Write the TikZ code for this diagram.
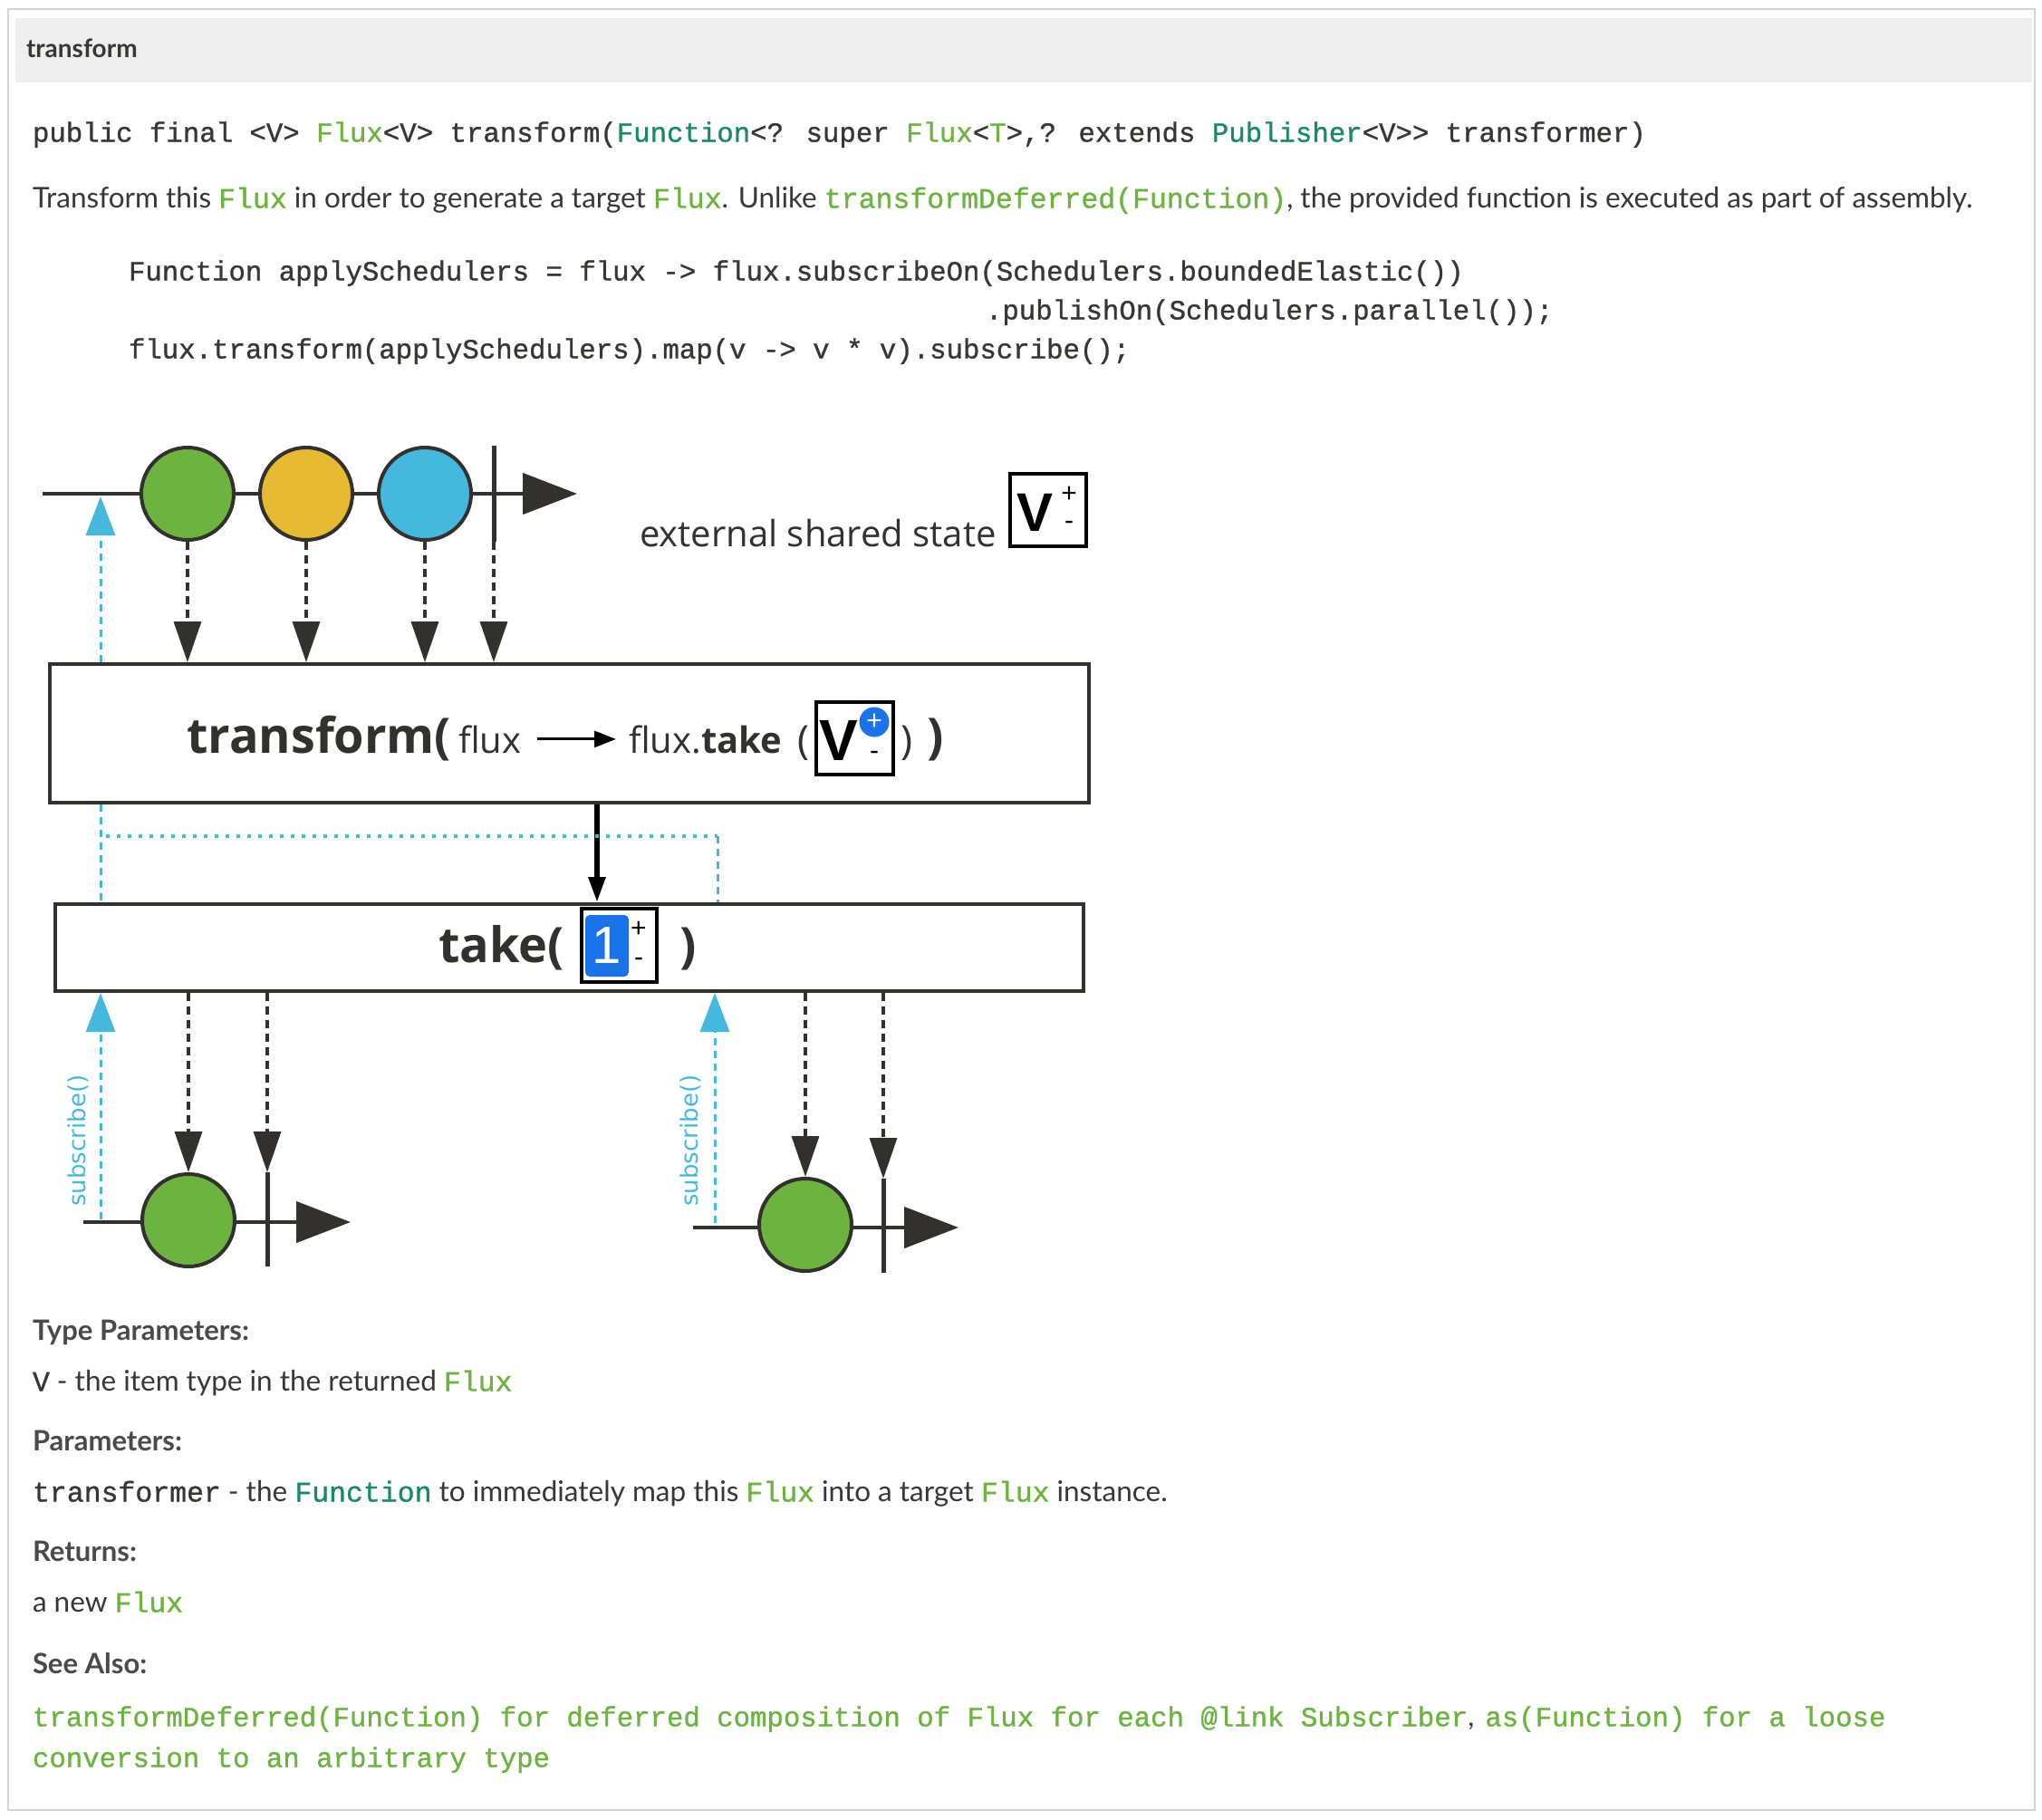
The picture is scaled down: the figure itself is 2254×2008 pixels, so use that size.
\documentclass[tikz,border=0pt]{standalone}
\usepackage{fontspec}
\setmainfont{Lato}
\newfontfamily\monof[FakeBold=1]{Liberation Mono}
\newfontfamily\arialf{Liberation Sans}
\newfontfamily\dejaf{DejaVu Sans}
\newfontfamily\opensf{Open Sans}
\usetikzlibrary{arrows.meta}
\definecolor{txt}{HTML}{353833}
\definecolor{headc}{HTML}{4A4A4A}
\definecolor{lgreen}{HTML}{6DB33F}
\definecolor{tealc}{HTML}{1A8A62}
\definecolor{inkc}{HTML}{33312D}
\definecolor{cyanc}{HTML}{45B8DE}
\definecolor{mgreen}{HTML}{6DB33F}
\definecolor{myellow}{HTML}{E6BB32}
\definecolor{mblue}{HTML}{45B8DE}
\definecolor{vblue}{HTML}{1A73E8}
\definecolor{framec}{HTML}{D4D4D4}
\definecolor{headbg}{HTML}{EEEEEE}
\newcommand\setfs[1]{\fontsize{#1pt}{#1pt}\selectfont}
\newcommand\gm[1]{{\monof\color{lgreen}#1}}
\newcommand\tm[1]{{\monof\color{tealc}#1}}
\newcommand\dm[1]{{\monof #1}}
\tikzset{
  txtn/.style={anchor=mid west, inner sep=0pt, outer sep=0pt, text=txt},
  headn/.style={txtn, text=headc, font=\bfseries\setfs{31}},
  bodyn/.style={txtn, font=\setfs{31.5}},
  coden/.style={txtn, font=\monof\setfs{30.7}},
  marble/.style={circle, draw=inkc, line width=4pt, minimum size=102pt, inner sep=0pt},
  timeline/.style={draw=inkc, line width=4.5pt, -{Triangle[length=60pt,width=45pt]}},
  stopbar/.style={draw=inkc, line width=5pt},
  emit/.style={draw=inkc, line width=3.5pt, dash pattern=on 9pt off 6pt, -{Triangle[length=45pt,width=30pt]}},
  sub/.style={draw=cyanc, line width=3pt, dash pattern=on 8pt off 6pt},
  subarrow/.style={sub, -{Triangle[length=43pt,width=32pt]}},
  opbox/.style={draw=inkc, line width=4pt, fill=white, inner sep=0pt},
  statebox/.style={draw=black, line width=4pt, inner sep=0pt},
  dtext/.style={anchor=base west, inner sep=0pt, text=inkc},
  pm/.style={font=\arialf\setfs{30}, inner sep=0pt},
}
\begin{document}
\begin{tikzpicture}[x=1pt,y=-1pt]
\useasboundingbox (0,0) rectangle (2254,2008);
\fill[white] (0,0) rectangle (2254,2008);
\draw[framec, line width=2pt] (9,10) rectangle (2246,1998);
\fill[headbg] (17,20) rectangle (2243,91);
\node[txtn, font=\bfseries\setfs{28}] (title) at (29,61) {transform};

% signature and description
\node[coden] (sig) at (36,154) {public final <V> \gm{Flux}<V> transform(\tm{Function}<? super \gm{Flux}<\gm{T}>,? extends \tm{Publisher}<V>> transformer)};
\node[bodyn] (desc) at (36,227) {Transform this \gm{Flux} in order to generate a target \gm{Flux}. Unlike \gm{transformDeferred(Function)}, the provided function is executed as part of assembly.};
\node[coden] (code1) at (142,307) {Function applySchedulers = flux -> flux.subscribeOn(Schedulers.boundedElastic())};
\node[coden] (code2) at (1088,350) {.publishOn(Schedulers.parallel());};
\node[coden] (code3) at (142,393) {flux.transform(applySchedulers).map(v -> v * v).subscribe();};

% ---------- diagram ----------
% top source stream
\coordinate (tl1s) at (47,545);
\coordinate (tl1e) at (637,545);
\draw[timeline] (tl1s) -- (tl1e);
\node[marble, fill=mgreen] (c1) at (207,545) {};
\node[marble, fill=myellow] (c2) at (338,545) {};
\node[marble, fill=mblue] (c3) at (469,545) {};
\coordinate (b1t) at (545,492);
\coordinate (b1b) at (545,598);
\draw[stopbar] (b1t) -- (b1b);

\node[dtext, font=\opensf\setfs{40}] (ext) at (706,603) {external shared state};
\node[statebox, minimum width=84pt, minimum height=80pt] (vs) at (1157,563) {};
\node[font=\arialf\bfseries\setfs{60}, inner sep=0pt] (vsV) at (1142,566) {V};
\node[pm] (vsP) at (1180,546) {+};
\node[pm] (vsM) at (1180,580) {-};

% transform box
\node[opbox, minimum width=1147pt, minimum height=153pt] (tbox) at (628.5,809.5) {};
\node[dtext, font=\opensf\bfseries\setfs{54}] (tT) at (206,831) {transform(};
\node[dtext, font=\opensf\setfs{40}] (tF) at (506,831) {flux};
\node[dtext, font=\opensf\setfs{40}] (tFT) at (694,831) {flux.\textbf{take}};
\draw[black, line width=3pt, -{Triangle[length=24pt,width=18pt]}] ([xshift=17pt]tF.east) -- ([xshift=-14pt]tF.east -| tFT.west);
\node[dtext, font=\opensf\setfs{44}] (tp1) at (880,832) {(};
\node[statebox, minimum width=85pt, minimum height=80pt] (vt) at (943.5,815) {};
\node[font=\arialf\bfseries\setfs{64}, inner sep=0pt] (vtV) at (926,817) {V};
\node[circle, fill=vblue, minimum size=33pt, inner sep=0pt, text=white, font=\arialf\setfs{30}] (vtP) at (965,797) {+};
\node[pm] (vtM) at (965,834) {-};
\node[dtext, font=\opensf\setfs{44}] (tp2) at (994,832) {)};
\node[dtext, font=\opensf\bfseries\setfs{54}] (tp3) at (1023,831) {)};

% take box
\node[opbox, minimum width=1135pt, minimum height=96pt] (take) at (628.5,1046) {};
\node[dtext, font=\opensf\bfseries\setfs{54}] (tk) at (484,1062) {take(};
\node[statebox, minimum width=83pt, minimum height=81pt] (onebox) at (683.5,1043.5) {};
\node[fill=vblue, rounded corners=5pt, minimum width=48pt, minimum height=68pt, inner sep=0pt, text=white, font=\arialf\setfs{58}] (one) at (670,1044) {1};
\node[pm] (oneP) at (705,1026) {+};
\node[pm] (oneM) at (705,1062) {-};
\node[dtext, font=\opensf\bfseries\setfs{54}] (tk2) at (750,1062) {)};

% emissions into transform
\draw[emit] (c1.south) -- (c1.south |- tbox.north);
\draw[emit] (c2.south) -- (c2.south |- tbox.north);
\draw[emit] (c3.south) -- (c3.south |- tbox.north);
\draw[emit] (b1b) -- (b1b |- tbox.north);

% transform -> take
\draw[black, line width=6pt, -{Triangle[length=28pt,width=18pt]}] ([xshift=30.5pt]tbox.south) -- ([xshift=30.5pt]take.north);

% cyan subscription paths
\coordinate (cyA) at (111,548);
\draw[subarrow] (cyA |- tbox.north) -- (cyA);
\draw[sub] (cyA |- tbox.south) -- (cyA |- take.north);
\coordinate (cyJ1) at (117,923);
\coordinate (cyJ2) at (792,923);
\draw[cyanc, line width=4pt, dash pattern=on 4pt off 8pt] (cyJ1) -- (cyJ2);
\draw[sub] (cyJ2) -- (cyJ2 |- take.north);

% bottom left subscriber
\coordinate (sl) at (111,1346);
\draw[subarrow] (sl) -- (sl |- take.south);
\node[rotate=90, text=cyanc, font=\dejaf\setfs{26}, inner sep=0pt] (subL) at (86,1259) {subscribe()};
\coordinate (tl2s) at (92,1349);
\coordinate (tl2e) at (387,1349);
\draw[timeline] (tl2s) -- (tl2e);
\node[marble, fill=mgreen] (c4) at (208,1347) {};
\coordinate (b2t) at (295,1294);
\coordinate (b2b) at (295,1398);
\draw[stopbar] (b2t) -- (b2b);
\draw[emit] (c4.north |- take.south) -- (c4.north);
\draw[emit] (b2t |- take.south) -- (b2t);

% bottom right subscriber
\coordinate (sr) at (789,1350);
\draw[subarrow] (sr) -- (sr |- take.south);
\node[rotate=90, text=cyanc, font=\dejaf\setfs{26}, inner sep=0pt] (subR) at (762,1259) {subscribe()};
\coordinate (tl3s) at (765,1355);
\coordinate (tl3e) at (1058,1355);
\draw[timeline] (tl3s) -- (tl3e);
\node[marble, fill=mgreen] (c5) at (889,1352) {};
\coordinate (b3t) at (975,1301);
\coordinate (b3b) at (975,1405);
\draw[stopbar] (b3t) -- (b3b);
\draw[emit] (c5.north |- take.south) -- (c5.north);
\draw[emit] (b3t |- take.south) -- (b3t);

% ---------- details ----------
\node[headn] (h1) at (36,1477) {Type Parameters:};
\node[bodyn] (p1) at (36,1533) {\dm{V} - the item type in the returned \gm{Flux}};
\node[headn] (h2) at (36,1599) {Parameters:};
\node[bodyn] (p2) at (36,1655) {\dm{transformer} - the \tm{Function} to immediately map this \gm{Flux} into a target \gm{Flux} instance.};
\node[headn] (h3) at (36,1721) {Returns:};
\node[bodyn] (p3) at (36,1777) {a new \gm{Flux}};
\node[headn] (h4) at (36,1845) {See Also:};
\node[coden, text=lgreen] (p4) at (36,1903) {transformDeferred(Function) for deferred composition of Flux for each @link Subscriber{\color{txt}\rmfamily,}\hspace{12pt}as(Function) for a loose};
\node[coden, text=lgreen] (p5) at (36,1948) {conversion to an arbitrary type};
\end{tikzpicture}
\end{document}
